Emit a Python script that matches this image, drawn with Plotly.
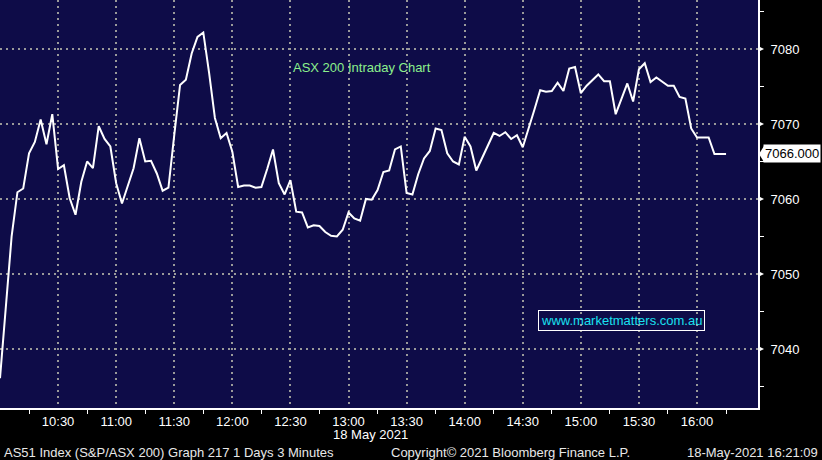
import pandas as pd
import plotly.graph_objects as go

# ASX 200 (AS51) 3-minute closes, 18 May 2021, starting 10:00
SESSION_START = "2021-05-18 10:00"
BAR_MINUTES = 3
closes = [
    7036.1, 7046.0, 7055.0, 7060.9, 7061.4, 7066.1, 7067.6, 7070.6, 7067.3, 7071.3,
    7064.0, 7064.5, 7060.1, 7057.9, 7062.3, 7065.0, 7064.1, 7069.7, 7068.0, 7067.0,
    7062.1, 7059.4, 7061.9, 7064.1, 7068.1, 7065.0, 7065.1, 7063.4, 7061.1, 7061.5,
    7068.5, 7075.2, 7075.9, 7079.4, 7081.6, 7082.2, 7076.8, 7070.8, 7068.1, 7068.8,
    7066.3, 7061.6, 7061.8, 7061.8, 7061.5, 7061.6, 7064.0, 7066.6, 7062.1, 7060.6,
    7062.5, 7058.3, 7058.2, 7056.2, 7056.5, 7056.4, 7055.6, 7055.1, 7055.0, 7055.9,
    7058.2, 7057.4, 7057.1, 7060.0, 7059.9, 7061.2, 7063.6, 7063.8, 7066.6, 7067.0,
    7060.8, 7060.6, 7063.3, 7065.4, 7066.4, 7069.4, 7069.2, 7066.1, 7065.0, 7064.6,
    7068.3, 7067.0, 7063.8, 7065.4, 7067.2, 7068.8, 7068.4, 7068.9, 7068.0, 7068.5,
    7066.9, 7069.3, 7071.9, 7074.5, 7074.3, 7074.4, 7075.5, 7074.4, 7077.4, 7077.6,
    7074.1, 7075.1, 7075.9, 7076.6, 7075.7, 7075.7, 7071.3, 7073.4, 7075.4, 7073.0,
    7077.3, 7078.1, 7075.6, 7076.2, 7075.7, 7075.1, 7075.1, 7073.6, 7073.4, 7069.4,
    7068.2, 7068.2, 7068.2, 7066.0, 7066.0, 7066.0,
]

x_tick_times = ["10:00", "10:30", "11:00", "11:30", "12:00", "12:30", "13:00",
                "13:30", "14:00", "14:30", "15:00", "15:30", "16:00"]
x_tick_labels = [""] + x_tick_times[1:]
y_ticks = [7040, 7050, 7060, 7070, 7080]

NAVY = "#0e0c48"
GRID = "#9a9a9a"
FONT = "Liberation Sans, Arial, sans-serif"

times = pd.date_range(SESSION_START, periods=len(closes), freq=f"{BAR_MINUTES}min")
day = "2021-05-18 "

fig = go.Figure()
fig.add_trace(
    go.Scatter(
        x=times,
        y=closes,
        mode="lines",
        line=dict(color="white", width=2),
        hoverinfo="skip",
    )
)

# small pointers on the price axis, Bloomberg style
for v in y_ticks:
    fig.add_shape(
        type="path", xref="paper", yref="y",
        xsizemode="pixel", ysizemode="pixel", xanchor=1, yanchor=v,
        path="M 0,-3 L 6,0 L 0,3 Z",
        fillcolor="white", line=dict(width=0),
    )

# last price tag on the right axis
fig.add_shape(
    type="path", xref="paper", yref="y",
    xsizemode="pixel", ysizemode="pixel", xanchor=1, yanchor=closes[-1],
    path="M 1,0 L 6,-8 L 6,8 Z",
    fillcolor="white", line=dict(width=0),
)
fig.add_annotation(
    x=1, xref="paper", y=closes[-1], yref="y",
    xanchor="left", yanchor="middle", xshift=5,
    text=f"{closes[-1]:.3f}",
    showarrow=False,
    bgcolor="white", borderpad=1,
    font=dict(color="black", size=13, family=FONT),
)

fig.add_annotation(
    x=291 / 758, xref="paper", y=1 - 68 / 408, yref="paper",
    xanchor="left", yanchor="middle", text="ASX 200 Intraday Chart", showarrow=False,
    font=dict(color="#8cf08c", size=13, family=FONT),
)
fig.add_annotation(
    x=621.5 / 758, xref="paper", y=1 - 320.5 / 408, yref="paper",
    xanchor="center", yanchor="middle",
    text="www.marketmatters.com.au", showarrow=False,
    bordercolor="white", borderwidth=1, borderpad=2,
    font=dict(color="#19e0f0", size=13, family=FONT),
)

# footer
fig.add_annotation(
    x=370 / 758, xref="paper", y=(408 - 434) / 408, yref="paper",
    xanchor="center", yanchor="middle",
    text="18 May 2021", showarrow=False,
    font=dict(color="white", size=13, family=FONT),
)
for text, xpos, anchor in [
    ("AS51 Index (S&P/ASX 200) Graph 217 1 Days 3 Minutes", 2, "left"),
    ("Copyright\u00a9 2021 Bloomberg Finance L.P.", 389, "left"),
    ("18-May-2021 16:21:09", 820, "right"),
]:
    fig.add_annotation(
        x=xpos / 758, xref="paper", y=(408 - 452) / 408, yref="paper",
        xanchor=anchor, yanchor="middle", text=text, showarrow=False,
        font=dict(color="#e8e8e8", size=13, family=FONT),
    )

fig.update_xaxes(
    range=[day + "10:00", day + "16:31:30"],
    tickmode="array",
    tickvals=[day + t for t in x_tick_times],
    ticktext=x_tick_labels,
    ticks="",
    showgrid=True, gridcolor=GRID, gridwidth=2, griddash="2px,4px",
    showline=True, linecolor="white", linewidth=2,
    zeroline=False,
    tickfont=dict(color="white", size=13, family=FONT),
    minor=dict(ticks="outside", ticklen=4, tickcolor="white", tickwidth=1,
               tick0=day + "10:15", dtick=30 * 60 * 1000, showgrid=False),
)
fig.update_yaxes(
    side="right",
    range=[7032.13, 7086.53],
    tickmode="array",
    tickvals=y_ticks,
    ticktext=[str(v) for v in y_ticks],
    ticks="",
    ticklabelstandoff=8,
    showgrid=True, gridcolor=GRID, gridwidth=2, griddash="2px,4px",
    showline=True, linecolor="white", linewidth=2,
    zeroline=False,
    tickfont=dict(color="white", size=13, family=FONT),
    minor=dict(ticks="outside", ticklen=4, tickcolor="white", tickwidth=1,
               tick0=7045, dtick=10, showgrid=False),
)

fig.update_layout(
    width=822,
    height=460,
    margin=dict(l=0, r=64, t=0, b=52),
    paper_bgcolor="black",
    plot_bgcolor=NAVY,
    showlegend=False,
    font=dict(family=FONT, color="white"),
)

fig.write_html(
    "out.html",
    config={"displayModeBar": False},
    post_script="document.body.style.margin='0';",
)
